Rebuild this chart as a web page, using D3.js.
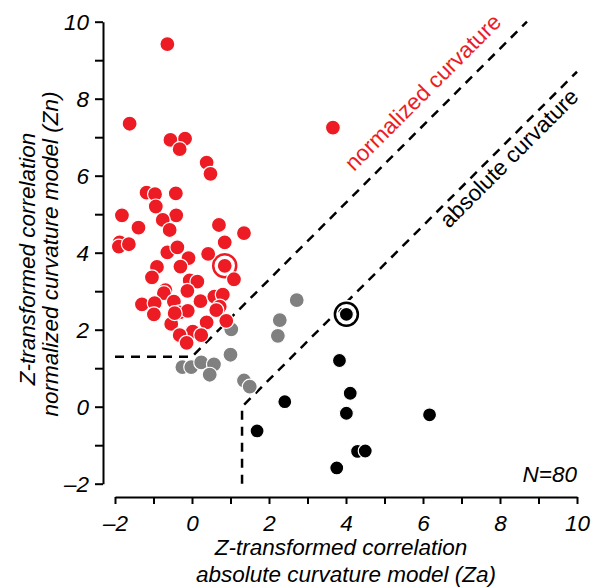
<!DOCTYPE html>
<html>
<head>
<meta charset="utf-8">
<script src="https://cdn.jsdelivr.net/npm/d3@7"></script>
<style>
  body { margin: 0; background: #fff; }
  text { font-family: Helvetica, Arial, "Liberation Sans", sans-serif; }
</style>
</head>
<body>
<div id="chart"></div>
<script>
// Data: [Za, Zn]
const redPoints = [
  [-0.64, 9.42], [-1.62, 7.35], [3.66, 7.25], [-0.56, 6.93], [-0.18, 6.96], [-0.32, 6.69],
  [0.38, 6.34], [0.48, 6.05], [-1.18, 5.56], [-0.96, 5.52], [-0.42, 5.54], [-1.82, 4.97],
  [-0.94, 5.20], [-0.41, 4.97], [-1.39, 4.65], [-0.76, 4.85], [-0.58, 4.59], [0.70, 4.72],
  [1.35, 4.51], [-1.88, 4.27], [-1.90, 4.16], [-1.64, 4.22], [0.85, 4.27], [-0.64, 4.01],
  [-0.38, 4.14], [0.42, 3.97], [-0.09, 3.86], [-0.91, 3.63], [-0.30, 3.64], [1.09, 3.31],
  [-1.04, 3.36], [-0.06, 3.28], [0.14, 3.25], [-0.69, 3.03], [-0.73, 2.95], [-0.12, 3.01],
  [-1.30, 2.66], [-0.97, 2.69], [-0.99, 2.40], [-0.47, 2.73], [0.22, 2.74], [0.58, 2.86],
  [0.80, 2.91], [-0.32, 2.45], [-0.11, 2.49], [0.72, 2.60], [0.63, 2.51], [0.89, 2.23],
  [0.38, 2.19], [-0.54, 2.15], [0.02, 1.95], [-0.32, 1.86], [0.24, 1.86], [-0.14, 1.66],
  [-0.45, 2.43], [0.85, 3.66]
];
const grayPoints = [
  [2.72, 2.77], [2.28, 2.25], [2.23, 1.84], [1.02, 2.01], [1.00, 1.35], [-0.25, 1.03],
  [-0.02, 1.03], [0.24, 1.15], [0.57, 1.10], [0.46, 0.83], [1.35, 0.68], [1.50, 0.52]
];
const blackPoints = [
  [4.01, 2.40], [3.83, 1.20], [4.11, 0.35], [4.01, -0.17], [2.41, 0.13], [1.69, -0.63],
  [4.30, -1.16], [4.50, -1.15], [3.76, -1.59], [6.17, -0.21]
];
const highlighted = [
  { p: [0.85, 3.66], color: "#ed1c24" },
  { p: [4.01, 2.40], color: "#000" }
];
// Boundary lines
const normLine = [[-2, 1.3], [0, 1.3], [8.7, 10.0]];
const absLine = [[1.3, -2], [1.3, 0], [10.0, 8.7]];
const tickValues = d3.range(-2, 11, 1);

const W = 602, H = 587;
const FS = "22.5px";
const svg = d3.select("#chart").append("svg")
    .attr("width", W).attr("height", H);

const x = d3.scaleLinear().domain([-2, 10]).range([115, 577]);
const y = d3.scaleLinear().domain([-2, 10]).range([483.7, 21.7]);

const fmt = d => d % 2 === 0 ? (d < 0 ? "\u2013" + Math.abs(d) : String(d)) : "";

// x axis (detached)
const xAxis = svg.append("g")
    .attr("transform", "translate(0,497)")
    .call(d3.axisBottom(x).tickValues(tickValues).tickSize(7).tickSizeOuter(0).tickPadding(11).tickFormat(fmt));
// y axis (detached)
const yAxis = svg.append("g")
    .attr("transform", "translate(103,0)")
    .call(d3.axisLeft(y).tickValues(tickValues).tickSize(8).tickSizeOuter(0).tickPadding(6).tickFormat(fmt));

[xAxis, yAxis].forEach(a => {
  a.select(".domain").attr("stroke", "#000").attr("stroke-width", 2);
  a.selectAll(".tick line").attr("stroke", "#000").attr("stroke-width", 2);
  a.selectAll(".tick text")
    .attr("fill", "#000")
    .style("font-size", FS)
    .style("font-style", "italic")
    .style("font-family", "Helvetica, Arial, 'Liberation Sans', sans-serif");
});
yAxis.selectAll(".tick text").attr("dy", "0.35em");

// axis titles
svg.append("text")
    .attr("x", 341).attr("y", 555)
    .attr("text-anchor", "middle")
    .style("font-size", FS).style("font-style", "italic")
    .text("Z-transformed correlation");
svg.append("text")
    .attr("x", 346).attr("y", 582)
    .attr("text-anchor", "middle")
    .style("font-size", FS).style("font-style", "italic")
    .text("absolute curvature model (Za)");
svg.append("text")
    .attr("transform", "translate(35,259) rotate(-90)")
    .attr("text-anchor", "middle")
    .style("font-size", FS).style("font-style", "italic")
    .text("Z-transformed correlation");
svg.append("text")
    .attr("transform", "translate(58,254) rotate(-90)")
    .attr("text-anchor", "middle")
    .style("font-size", FS).style("font-style", "italic")
    .text("normalized curvature model (Zn)");

// dashed boundaries
const line = d3.line().x(d => x(d[0])).y(d => y(d[1]));
[normLine, absLine].forEach(l => {
  svg.append("path")
    .attr("d", line(l))
    .attr("fill", "none")
    .attr("stroke", "#000")
    .attr("stroke-width", 2.5)
    .attr("stroke-dasharray", "9,7");
});

// boundary labels
svg.append("text")
    .attr("transform", "translate(354,172) rotate(-45)")
    .attr("fill", "#ed1c24")
    .style("font-size", FS)
    .text("normalized curvature");
svg.append("text")
    .attr("transform", "translate(449,229) rotate(-45)")
    .attr("fill", "#000")
    .style("font-size", FS)
    .text("absolute curvature");

// highlight rings
svg.selectAll(".ring-bg").data(highlighted).join("circle")
    .attr("cx", d => x(d.p[0])).attr("cy", d => y(d.p[1]))
    .attr("r", 11.5).attr("fill", "none")
    .attr("stroke", "#fff").attr("stroke-width", 6);
svg.selectAll(".ring").data(highlighted).join("circle")
    .attr("cx", d => x(d.p[0])).attr("cy", d => y(d.p[1]))
    .attr("r", 11.5).attr("fill", "none")
    .attr("stroke", d => d.color).attr("stroke-width", 2.5);

// points
function drawPoints(data, color, r) {
  svg.append("g").selectAll("circle").data(data).join("circle")
    .attr("cx", d => x(d[0])).attr("cy", d => y(d[1]))
    .attr("r", r)
    .attr("fill", color)
    .attr("stroke", "#fff")
    .attr("stroke-width", 1.2);
}
drawPoints(grayPoints, "#808080", 7.5);
drawPoints(redPoints, "#ed1c24", 7.5);
drawPoints(blackPoints, "#000", 7);

svg.append("text")
    .attr("x", 577).attr("y", 482)
    .attr("text-anchor", "end")
    .style("font-size", FS).style("font-style", "italic")
    .text("N=80");
</script>
</body>
</html>
